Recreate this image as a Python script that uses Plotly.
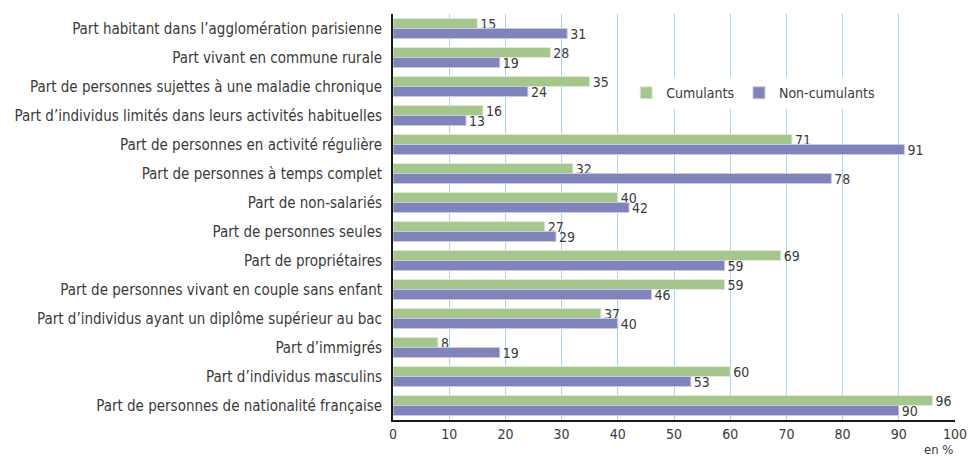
import plotly.graph_objects as go

categories = [
    "Part habitant dans l’agglomération parisienne",
    "Part vivant en commune rurale",
    "Part de personnes sujettes à une maladie chronique",
    "Part d’individus limités dans leurs activités habituelles",
    "Part de personnes en activité régulière",
    "Part de personnes à temps complet",
    "Part de non-salariés",
    "Part de personnes seules",
    "Part de propriétaires",
    "Part de personnes vivant en couple sans enfant",
    "Part d’individus ayant un diplôme supérieur au bac",
    "Part d’immigrés",
    "Part d’individus masculins",
    "Part de personnes de nationalité française",
]
cumulants = [15, 28, 35, 16, 71, 32, 40, 27, 69, 59, 37, 8, 60, 96]
non_cumulants = [31, 19, 24, 13, 91, 78, 42, 29, 59, 46, 40, 19, 53, 90]
x_ticks = list(range(0, 101, 10))

FONT = "DejaVu Sans Condensed, Liberation Sans Narrow, sans-serif"
TXT = "#3a3a3a"

fig = go.Figure()
fig.add_trace(go.Bar(
    name="Cumulants", y=categories, x=cumulants, orientation="h",
    marker=dict(color="#a5c78d", line=dict(color="#dcebd2", width=1)),
    text=cumulants, textposition="outside", constraintext="none",
    textfont=dict(family=FONT, size=14, color=TXT), cliponaxis=False,
))
fig.add_trace(go.Bar(
    name="Non-cumulants", y=categories, x=non_cumulants, orientation="h",
    marker=dict(color="#8084bb", line=dict(color="#c8c9e2", width=1)),
    text=non_cumulants, textposition="outside", constraintext="none",
    textfont=dict(family=FONT, size=14, color=TXT), cliponaxis=False,
))

fig.update_layout(
    width=970, height=456,
    margin=dict(l=393, r=15, t=14, b=36, autoexpand=False),
    paper_bgcolor="white", plot_bgcolor="white",
    barmode="group", bargap=0.31, bargroupgap=0,
    font=dict(family=FONT, size=15, color=TXT),
    legend=dict(
        orientation="h", x=0.415, y=0.805, xanchor="left", yanchor="middle",
        bgcolor="white", font=dict(family=FONT, size=14, color=TXT),
        itemwidth=30, traceorder="normal",
    ),
    xaxis=dict(
        range=[0, 100], tickvals=x_ticks, ticktext=[str(v) for v in x_ticks],
        showgrid=True, gridcolor="#a9d5f1", gridwidth=1,
        showline=True, linecolor="#1a1a1a", linewidth=2,
        ticks="", zeroline=False, automargin=False,
        tickfont=dict(family=FONT, size=14, color=TXT),
    ),
    yaxis=dict(
        autorange="reversed", showline=True, linecolor="#1a1a1a", linewidth=2,
        ticks="", showgrid=False, automargin=False,
        tickfont=dict(family=FONT, size=15, color=TXT),
        ticklabelstandoff=6,
    ),
    annotations=[dict(
        text="en %", xref="paper", yref="paper", x=1.0, y=0, xanchor="right",
        yanchor="top", yshift=-20, showarrow=False,
        font=dict(family=FONT, size=13, color=TXT),
    )],
)

fig.write_html(
    "out.html",
    config={"displayModeBar": False},
    post_script="document.body.style.margin='0';document.body.style.overflow='hidden';",
)
